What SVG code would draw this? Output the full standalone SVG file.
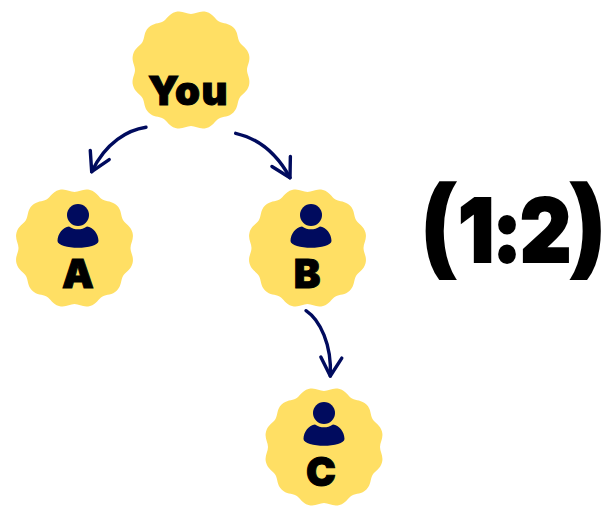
<svg xmlns="http://www.w3.org/2000/svg" width="609" height="506" viewBox="0 0 609 506">
<style>
.badge{fill:#FFDF64}
.person{fill:#000B5E}
.lbl{font-family:"Inter","Liberation Sans",sans-serif;font-weight:900;fill:#000;stroke:#000;stroke-width:1;paint-order:stroke;text-anchor:middle}
.paren{font-family:"Open Sans","Liberation Sans",sans-serif;font-weight:800}
.link{fill:none;stroke:#000B5E;stroke-width:3.4;stroke-linecap:round;marker-end:url(#head)}
</style>
<defs>
<marker id="head" markerUnits="userSpaceOnUse" markerWidth="30" markerHeight="30" viewBox="-24 -15 30 30" refX="0" refY="0" orient="auto">
<path d="M-18.5,-10.5 L0,0 L-18.5,10.5" fill="none" stroke="#000B5E" stroke-width="3.4" stroke-linecap="round" stroke-linejoin="round"/>
</marker>
<path id="scallop" d="M0,-56C5,-56 8.77,-59.77 15.53,-57.96C22.29,-56.15 23.67,-51 28,-48.5C32.33,-46 37.48,-47.38 42.43,-42.43C47.38,-37.48 46,-32.33 48.5,-28C51,-23.67 56.15,-22.29 57.96,-15.53C59.77,-8.77 56,-5 56,0C56,5 59.77,8.77 57.96,15.53C56.15,22.29 51,23.67 48.5,28C46,32.33 47.38,37.48 42.43,42.43C37.48,47.38 32.33,46 28,48.5C23.67,51 22.29,56.15 15.53,57.96C8.77,59.77 5,56 0,56C-5,56 -8.77,59.77 -15.53,57.96C-22.29,56.15 -23.67,51 -28,48.5C-32.33,46 -37.48,47.38 -42.43,42.43C-47.38,37.48 -46,32.33 -48.5,28C-51,23.67 -56.15,22.29 -57.96,15.53C-59.77,8.77 -56,5 -56,0C-56,-5 -59.77,-8.77 -57.96,-15.53C-56.15,-22.29 -51,-23.67 -48.5,-28C-46,-32.33 -47.38,-37.48 -42.43,-42.43C-37.48,-47.38 -32.33,-46 -28,-48.5C-23.67,-51 -22.29,-56.15 -15.53,-57.96C-8.77,-59.77 -5,-56 0,-56Z"/>
<g id="person">
<circle cx="0" cy="0" r="11"/>
<path d="M-20.5,26C-20.5,19 -15,12 -9,11.5C-6,13.5 -3,14.3 0,14.3C3,14.3 6,13.5 9,11.5C15,12 20.5,19 20.5,26C20.5,30 10,32.8 0,32.8C-10,32.8 -20.5,30 -20.5,26Z"/>
</g>
</defs>
<g id="connectors">
<path class="link" d="M146,127.3C128,130 106,142 91.7,171.7"/>
<path class="link" d="M235.7,133.3Q270,141 290,177.7"/>
<path class="link" d="M306,310.7C320,320 332,345 330.3,376"/>
</g>
<g id="node-you">
<use href="#scallop" class="badge" x="191" y="70"/>
<text class="lbl" x="188.5" y="105" font-size="40" letter-spacing="1.5">You</text>
</g>
<g id="node-a">
<use href="#scallop" class="badge" x="74.5" y="248"/>
<use href="#person" class="person" x="78" y="215"/>
<text class="lbl" x="78" y="288" font-size="40">A</text>
</g>
<g id="node-b">
<use href="#scallop" class="badge" x="307.5" y="248"/>
<use href="#person" class="person" x="311" y="215"/>
<text class="lbl" x="307" y="288" font-size="40">B</text>
</g>
<g id="node-c">
<use href="#scallop" class="badge" x="324" y="447"/>
<use href="#person" class="person" x="324" y="413"/>
<text class="lbl" x="321" y="486" font-size="40">C</text>
</g>
<text id="ratio" class="lbl" transform="scale(.9 1)" style="stroke-width:2"><tspan class="paren" x="489.4" y="262" font-size="108">(</tspan><tspan x="570.8" y="262" font-size="88" letter-spacing="-2">1:2</tspan><tspan class="paren" x="651" y="262" font-size="108">)</tspan></text>
</svg>
